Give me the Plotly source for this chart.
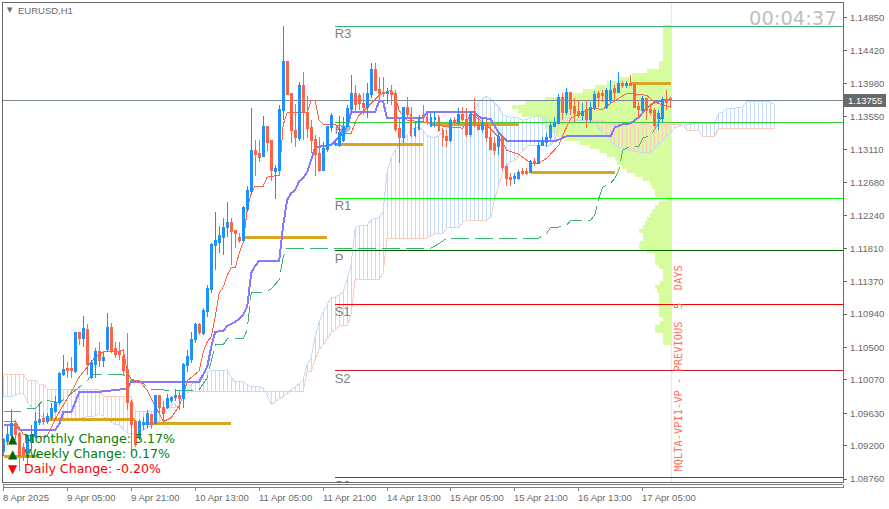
#!/usr/bin/env python3
"""EURUSD H1 terminal chart: candles, Ichimoku, pivots and a volume profile."""

import plotly.graph_objects as go

# Candles, quoted in points (1 point = 0.00001)
opens_pts = [
    109124, 109255, 109335, 109493, 109361, 109176, 109110, 109242, 109321, 109506, 109559, 109519,
    109572, 109651, 109769, 110138, 110218, 110218, 110178, 110692, 110613, 110732, 110099, 110270,
    110442, 110323, 110468, 110758, 110481, 110442, 110376, 110204, 109769, 109519, 109308, 109479,
    109479, 109611, 109493, 109862, 109704, 109704, 109796, 109835, 109862, 109822, 110257, 110336,
    110600, 110797, 110679, 110969, 111259, 111839, 111891, 111957, 112089, 112155, 112050, 111957,
    111918, 112326, 112564, 113104, 113064, 113025, 113420, 113236, 112827, 112840, 113631, 114277,
    113855, 113368, 113262, 113961, 113605, 113407, 113249, 113064, 112840, 113117, 113407, 113183,
    113170, 113236, 113420, 113644, 113855, 113829, 113723, 113671, 113842, 114172, 113908, 113868,
    113855, 113882, 113855, 113394, 113275, 113671, 113578, 113302, 113381, 113565, 113552, 113420,
    113513, 113539, 113368, 113289, 113236, 113499, 113460, 113578, 113513, 113315, 113578, 113447,
    113381, 113447, 113275, 113196, 113157, 113289, 112893, 112748, 112735, 112735, 112827, 112827,
    112814, 112959, 112933, 113170, 113209, 113275, 113420, 113460, 113803, 113605, 113868, 113684,
    113618, 113565, 113644, 113513, 113671, 113855, 113855, 113671, 113763, 113921, 113868, 113987,
    113961, 113987, 113974, 113684, 113631, 113789, 113644, 113631, 113526, 113526, 113776, 113789,
]
highs_pts = [
    109308, 109466, 109690, 109545, 109387, 109242, 109321, 109479, 109651, 109769, 109638, 109638,
    109769, 109862, 110178, 110402, 110310, 110376, 110692, 110692, 110916, 110811, 110336, 110494,
    110573, 110442, 110956, 110824, 110573, 110573, 110481, 110692, 109809, 109545, 109545, 109585,
    109677, 109624, 109875, 109862, 109796, 109888, 109862, 109954, 109928, 110297, 110468, 110705,
    110824, 110824, 111022, 111325, 111878, 112287, 112102, 112208, 112419, 112208, 112050, 112010,
    112366, 112630, 113658, 113236, 113236, 113552, 113420, 113236, 112906, 113697, 114738, 114277,
    113855, 113710, 114000, 114132, 113816, 113499, 113302, 113275, 113209, 113420, 113592, 113236,
    113552, 113539, 113697, 114092, 113961, 113855, 113855, 113987, 114251, 114251, 114066, 114066,
    113921, 113961, 113895, 113539, 113671, 113803, 113671, 113460, 113565, 113697, 113592, 113592,
    113605, 113565, 113394, 113368, 113526, 113539, 113658, 113671, 113658, 113605, 113789, 113539,
    113526, 113499, 113433, 113275, 113341, 113302, 112906, 112801, 112801, 112840, 112867, 112867,
    112972, 112999, 113236, 113275, 113328, 113460, 113539, 113842, 113855, 113921, 113868, 113789,
    113763, 113723, 113763, 113737, 113882, 113882, 113895, 113921, 114027, 113961, 114132, 114013,
    114013, 114092, 113987, 113737, 113816, 113789, 113710, 113658, 113631, 113803, 113895, 113803,
]
lows_pts = [
    109071, 109216, 109308, 109282, 108873, 109005, 108965, 109150, 109308, 109479, 109479, 109493,
    109545, 109638, 109743, 110125, 110099, 110099, 110165, 110534, 110508, 110138, 110086, 110099,
    110244, 110244, 110442, 110428, 110363, 110336, 110138, 109677, 109137, 109190, 109282, 109414,
    109440, 109427, 109479, 109624, 109519, 109690, 109769, 109796, 109677, 109704, 110178, 110297,
    110560, 110666, 110666, 110903, 111219, 111522, 111746, 111720, 111957, 111588, 111812, 111878,
    111878, 112287, 112511, 112761, 112946, 113012, 113091, 112695, 112458, 112827, 113499, 113842,
    113196, 113144, 113223, 113236, 113262, 113064, 112761, 112814, 112840, 113078, 113341, 113157,
    113144, 113209, 113407, 113605, 113592, 113631, 113565, 113526, 113789, 113882, 113737, 113803,
    113710, 113697, 113341, 112933, 113196, 113539, 113275, 113275, 113368, 113473, 113433, 113407,
    113407, 113341, 113157, 113144, 113209, 113447, 113447, 113486, 113275, 113275, 113407, 113368,
    113328, 113209, 113104, 113038, 113038, 112840, 112630, 112630, 112656, 112709, 112774, 112774,
    112801, 112893, 112933, 113157, 113144, 113236, 113407, 113447, 113499, 113565, 113565, 113473,
    113526, 113499, 113394, 113473, 113631, 113671, 113737, 113644, 113710, 113763, 113855, 113921,
    113921, 113948, 113658, 113526, 113605, 113499, 113565, 113407, 113368, 113473, 113631, 113671,
]
closes_pts = [
    109282, 109348, 109493, 109348, 109071, 109084, 109321, 109348, 109519, 109545, 109519, 109585,
    109690, 109769, 110152, 110204, 110191, 110191, 110692, 110613, 110745, 110270, 110297, 110442,
    110323, 110363, 110758, 110442, 110402, 110402, 110191, 109769, 109479, 109216, 109519, 109506,
    109624, 109479, 109862, 109704, 109624, 109822, 109835, 109862, 109822, 110270, 110376, 110600,
    110797, 110692, 110982, 111272, 111865, 111918, 111971, 112089, 112155, 112036, 112010, 111905,
    112353, 112577, 113104, 113051, 113012, 113420, 113209, 112840, 112867, 113644, 114277, 113842,
    113368, 113275, 113961, 113605, 113394, 113236, 113051, 112840, 113130, 113420, 113565, 113196,
    113341, 113420, 113658, 113855, 113710, 113723, 113671, 113855, 114172, 113895, 113855, 113855,
    113882, 113842, 113381, 113275, 113671, 113578, 113302, 113394, 113539, 113539, 113486, 113539,
    113539, 113368, 113275, 113236, 113499, 113473, 113578, 113513, 113315, 113578, 113447, 113381,
    113460, 113275, 113117, 113104, 113289, 112880, 112735, 112722, 112761, 112814, 112801, 112801,
    112959, 112933, 113170, 113236, 113275, 113433, 113473, 113803, 113605, 113868, 113658, 113592,
    113565, 113618, 113513, 113671, 113842, 113803, 113829, 113895, 113895, 113868, 113987, 113961,
    113987, 113961, 113671, 113644, 113789, 113631, 113605, 113433, 113592, 113776, 113737, 113755,
]

# Ichimoku lines, as the vertices (bar number, points)
tenkan_bars = [
    0, 3, 5, 9, 11, 13, 15, 17, 19, 23, 25, 30, 31, 32, 34, 36, 40, 42, 44, 45, 46, 49, 50, 51, 52,
    53, 54, 55, 56, 57, 58, 59, 60, 61, 62, 63, 65, 66, 69, 70, 71, 76, 77, 78, 79, 80, 83, 85, 87,
    88, 89, 91, 94, 97, 98, 99, 101, 106, 108, 115, 117, 121, 124, 126, 129, 132, 134, 136, 139,
    140, 142, 146, 147, 150, 152, 156, 161, 163, 167,
]
tenkan_pts = [
    109519, 109519, 109348, 109321, 109335, 109559, 109743, 109914, 110112, 110376, 110442, 110455,
    110178, 110073, 110059, 109928, 109519, 109572, 109730, 109862, 110059, 110191, 110442, 110573,
    110639, 110903, 111219, 111298, 111456, 111549, 111549, 111746, 111891, 112313, 112537, 112630,
    112630, 112748, 112774, 113433, 113605, 113605, 113763, 113763, 113499, 113447, 113447, 113328,
    113328, 113460, 113565, 113671, 113829, 113895, 113829, 113631, 113499, 113473, 113433, 113394,
    113592, 113433, 113275, 113104, 113051, 112933, 112933, 112999, 113170, 113302, 113526, 113631,
    113658, 113644, 113723, 113855, 113829, 113737, 113671,
]
kijun_bars = [
    0, 3, 4, 13, 14, 15, 17, 18, 19, 24, 26, 31, 32, 49, 51, 52, 53, 55, 56, 58, 59, 60, 61, 62, 63,
    64, 69, 70, 71, 72, 73, 74, 75, 76, 77, 78, 82, 84, 86, 87, 93, 94, 95, 96, 105, 106, 118, 119,
    122, 124, 126, 138, 141, 152, 153, 155, 157, 159, 161, 163, 167,
]
kijun_pts = [
    109479, 109479, 109414, 109414, 109493, 109651, 109651, 109796, 109914, 109914, 109928, 109954,
    110046, 110046, 110244, 110508, 110705, 110718, 110784, 110837, 110877, 110929, 111035, 111483,
    111575, 111641, 111641, 112115, 112445, 112537, 112577, 112695, 112735, 112814, 112972, 113144,
    113170, 113275, 113394, 113605, 113605, 113750, 113750, 113526, 113526, 113605, 113605, 113539,
    113513, 113328, 113223, 113223, 113289, 113289, 113407, 113447, 113460, 113539, 113658, 113737,
    113776,
]
chikou_bars = [
    0, 4, 6, 8, 10, 14, 21, 22, 30, 32, 34, 37, 47, 49, 51, 52, 53, 55, 56, 60, 61, 62, 65, 67, 69,
    70, 71, 107, 108, 110, 111, 134, 136, 137, 139, 141, 142, 147, 148, 149, 150, 152, 153, 154,
    155, 157, 159, 160, 162, 164, 165,
]
chikou_pts = [
    109651, 109651, 109690, 109690, 109809, 109769, 110059, 110138, 110138, 110059, 110059, 109941,
    109928, 109941, 110099, 110297, 110534, 110534, 110613, 110613, 110732, 111219, 111219, 111272,
    111391, 111694, 111812, 111812, 111839, 111905, 111944, 111944, 112010, 112089, 112089, 112115,
    112181, 112181, 112247, 112471, 112616, 112669, 112735, 112840, 113104, 113157, 113157, 113262,
    113302, 113460, 113592,
]

# Cloud edges, one value for each bar including the 26 bars past the last candle
span_a_pts = [
    109849, 109849, 109849, 109875, 109888, 109888, 109783, 109704, 109651, 109598, 109585, 109559,
    109559, 109559, 109559, 109559, 109559, 109559, 109559, 109559, 109572, 109585, 109585, 109598,
    109624, 109585, 109545, 109506, 109479, 109479, 109414, 109361, 109361, 109361, 109387, 109414,
    109440, 109466, 109493, 109519, 109611, 109704, 109743, 109756, 109809, 109888, 109941, 110007,
    110046, 110099, 110138, 110178, 110191, 110191, 110191, 110191, 110204, 110099, 110046, 110046,
    110046, 110007, 109980, 109980, 109980, 109954, 109875, 109743, 109783, 109822, 109849, 109901,
    109941, 109980, 110020, 110073, 110270, 110363, 110639, 110837, 110969, 111061, 111153, 111167,
    111193, 111232, 111391, 111588, 112076, 112102, 112115, 112115, 112181, 112208, 112208, 112287,
    112814, 112999, 113104, 113170, 113236, 113302, 113368, 113407, 113407, 113368, 113302, 113275,
    113275, 113302, 113341, 113394, 113447, 113486, 113526, 113539, 113552, 113578, 113631, 113737,
    113789, 113816, 113776, 113723, 113671, 113565, 113552, 113539, 113539, 113526, 113499, 113513,
    113526, 113552, 113565, 113552, 113513, 113473, 113473, 113499, 113539, 113526, 113526, 113513,
    113499, 113499, 113499, 113499, 113473, 113394, 113341, 113315, 113236, 113170, 113144, 113130,
    113117, 113104, 113091, 113078, 113078, 113064, 113078, 113130, 113183, 113223, 113289, 113341,
    113394, 113420, 113433, 113447, 113447, 113460, 113460, 113460, 113460, 113460, 113460, 113592,
    113605, 113658, 113658, 113658, 113671, 113671, 113750, 113750, 113750, 113750, 113750, 113750,
    113737, 113710,
]
span_b_pts = [
    110138, 110138, 110138, 110138, 110138, 110138, 110059, 110059, 110059, 110007, 110007, 109941,
    109941, 109941, 109941, 109941, 109941, 109941, 109941, 109941, 109941, 109941, 109941, 109941,
    109941, 109849, 109849, 109849, 109849, 109849, 109849, 109849, 109849, 109651, 109651, 109651,
    109651, 109651, 109651, 109651, 109651, 109704, 109704, 109704, 109743, 109849, 109901, 109914,
    109914, 109914, 109914, 109914, 109914, 109914, 109914, 109914, 109914, 109914, 109914, 109914,
    109914, 109914, 109914, 109914, 109914, 109914, 109914, 109914, 109914, 109914, 109914, 109914,
    109914, 109914, 109914, 109914, 110178, 110178, 110336, 110468, 110534, 110613, 110692, 110732,
    110784, 110784, 110784, 110929, 111391, 111391, 111391, 111391, 111391, 111391, 111391, 111483,
    111944, 111944, 111944, 111944, 111944, 111944, 111944, 111944, 111944, 111944, 111944, 111971,
    111997, 112010, 112010, 112076, 112089, 112089, 112089, 112155, 112181, 112181, 112181, 112181,
    112181, 112181, 112221, 112471, 112643, 112814, 112906, 112946, 112972, 113038, 113104, 113157,
    113170, 113170, 113170, 113170, 113170, 113170, 113236, 113433, 113499, 113499, 113499, 113499,
    113499, 113499, 113499, 113499, 113499, 113499, 113499, 113447, 113447, 113447, 113447, 113447,
    113447, 113447, 113447, 113447, 113447, 113447, 113447, 113447, 113447, 113447, 113447, 113447,
    113447, 113447, 113447, 113368, 113368, 113368, 113368, 113289, 113289, 113289, 113289, 113394,
    113394, 113394, 113394, 113394, 113394, 113394, 113394, 113394, 113394, 113394, 113394, 113394,
    113394, 113394,
]

# Volume profile: price of each row and its length, measured in bars
profile_pts = [
    114725, 114672, 114619, 114567, 114514, 114461, 114408, 114356, 114303, 114250, 114197, 114145,
    114092, 114039, 113987, 113934, 113881, 113829, 113776, 113723, 113671, 113618, 113565, 113512,
    113460, 113407, 113354, 113302, 113249, 113196, 113143, 113091, 113038, 112985, 112933, 112880,
    112827, 112775, 112722, 112669, 112616, 112564, 112511, 112458, 112406, 112353, 112300, 112247,
    112195, 112142, 112089, 112037, 111984, 111931, 111878, 111826, 111773, 111720, 111668, 111615,
    111562, 111509, 111457, 111404, 111351, 111299, 111246, 111193, 111140, 111088, 111035, 110982,
    110930, 110877, 110824, 110771, 110719, 110666, 110613, 110561,
]
profile_volume = [
    2.1, 2.1, 2.1, 2.1, 2.1, 2.1, 2.1, 2.1, 2.1, 3.1, 3.1, 6.1,
    9.9, 13.4, 16.1, 19.1, 22.1, 26.1, 31.6, 36.6, 39.9, 38.4, 37.4, 32.9,
    32.1, 31.6, 29.9, 28.6, 26.6, 22.9, 20.4, 17.9, 16.1, 14.1, 13.6, 12.4,
    11.1, 9.1, 7.1, 5.4, 4.9, 4.1, 4.1, 1.1, 3.1, 4.1, 4.9, 5.4,
    6.1, 6.6, 7.1, 8.1, 7.1, 7.1, 7.9, 8.1, 6.1, 4.1, 4.1, 4.1,
    3.1, 2.1, 2.1, 2.1, 2.9, 4.1, 3.6, 3.1, 3.1, 3.1, 3.1, 3.1,
    3.1, 2.1, 2.9, 4.1, 4.1, 2.1, 2.1, 2.1,
]

# Horizontal levels
pivot_names = ["R3", "R2", "R1", "P", "S1", "S2", "S3"]
pivot_pts = [114738, 113473, 112471, 111773, 111068, 110191, 108781]
pivot_colors = ["#3CB371", "#32CD32", "#00FF00", "#006400", "#FF0000", "#C81E32", "#B22234"]
gold_pts = [109058, 109545, 109493, 111957, 113183, 113447, 112814, 113987]
gold_first_bar = [0, 11, 35, 60, 83, 107, 132, 157]
gold_last_bar = [9, 33, 57, 81, 105, 129, 153, 167]
last_price = 1.13755

# Axis labels
price_ticks = [
    "1.14850", "1.14420", "1.13980", "1.13550", "1.13110", "1.12680", "1.12240", "1.11810",
    "1.11370", "1.10940", "1.10500", "1.10070", "1.09630", "1.09200", "1.08760",
]
time_tick_bars = [0, 16, 32, 48, 64, 80, 96, 112, 128, 144, 160]
time_ticks = [
    "8 Apr 2025", "9 Apr 05:00", "9 Apr 21:00", "10 Apr 13:00", "11 Apr 05:00", "11 Apr 21:00",
    "14 Apr 13:00", "15 Apr 05:00", "15 Apr 21:00", "16 Apr 13:00", "17 Apr 05:00",
]

GRAY = "#696969"
BLUE = "#1E90FF"
RED = "#FF6347"
CLOUD_UP = "#C3DBF4"
CLOUD_DOWN = "#F6CDBE"
PROFILE_GREEN = "#D7FC9D"
TICK_FONT = dict(family="Liberation Sans", size=9.5, color=GRAY)

# Pixel frame of the plot area inside the 889x509 page
LEFT, RIGHT, TOP, BOTTOM = 2.5, 843.5, 2.5, 482.5


def price(points):
    return [p / 100000 for p in points]


def paper_x(px):
    return (px - LEFT) / (RIGHT - LEFT)


def paper_y(px):
    return (BOTTOM - px) / (BOTTOM - TOP)


fig = go.Figure()

# Volume profile grows to the left from the bar just after the last candle
anchor_bar = 167.1
fig.add_trace(go.Bar(
    y=price(profile_pts),
    x=[-v for v in profile_volume],
    base=anchor_bar,
    orientation="h",
    width=0.00054,
    marker=dict(color=PROFILE_GREEN, line=dict(width=0)),
))

# Cloud hatching, one vertical stroke per bar
hatch = {CLOUD_UP: ([], []), CLOUD_DOWN: ([], [])}
for bar, (a, b) in enumerate(zip(span_a_pts, span_b_pts)):
    xs, ys = hatch[CLOUD_UP if a >= b else CLOUD_DOWN]
    xs += [bar, bar, None]
    ys += [a / 100000, b / 100000, None]
for color, (xs, ys) in hatch.items():
    fig.add_trace(go.Scatter(x=xs, y=ys, mode="lines", line=dict(color=color, width=1)))

span_bars = list(range(len(span_a_pts)))
fig.add_trace(go.Scatter(x=span_bars, y=price(span_b_pts), mode="lines",
                         line=dict(color=CLOUD_DOWN, width=1)))
fig.add_trace(go.Scatter(x=span_bars, y=price(span_a_pts), mode="lines",
                         line=dict(color=CLOUD_UP, width=1)))

# Gold levels
for level, first, last in zip(gold_pts, gold_first_bar, gold_last_bar):
    fig.add_trace(go.Scatter(x=[first, last], y=[level / 100000] * 2, mode="lines",
                             line=dict(color="#DAA520", width=3)))

# Pivot lines with their names hanging underneath
pivot_start, chart_end = 83, 210.2
label_drop = 0.0003
for name, level, color in zip(pivot_names, pivot_pts, pivot_colors):
    fig.add_trace(go.Scatter(x=[pivot_start, chart_end], y=[level / 100000] * 2, mode="lines",
                             line=dict(color=color, width=1)))
    fig.add_trace(go.Scatter(x=[pivot_start - 0.1], y=[level / 100000 - label_drop], mode="text",
                             text=[name], textposition="bottom right",
                             textfont=dict(family="Liberation Sans", size=13, color="#808080")))

# Current price
fig.add_trace(go.Scatter(x=[-1, chart_end], y=[last_price, last_price], mode="lines",
                         line=dict(color="#778899", width=1)))

# Ichimoku lines
fig.add_trace(go.Scatter(x=chikou_bars, y=price(chikou_pts), mode="lines",
                         line=dict(color="#3CB371", width=1, dash="18px,6px")))
fig.add_trace(go.Scatter(x=kijun_bars, y=price(kijun_pts), mode="lines",
                         line=dict(color="#8878FF", width=2)))
fig.add_trace(go.Scatter(x=tenkan_bars, y=price(tenkan_pts), mode="lines",
                         line=dict(color=RED, width=1)))

# Candles sit on an overlaid pair of axes so that they stay above the indicators
fig.add_trace(go.Candlestick(
    x=list(range(len(opens_pts))),
    open=price(opens_pts),
    high=price(highs_pts),
    low=price(lows_pts),
    close=price(closes_pts),
    xaxis="x2",
    yaxis="y2",
    whiskerwidth=0,
    increasing=dict(line=dict(color=BLUE, width=1), fillcolor=BLUE),
    decreasing=dict(line=dict(color=RED, width=1), fillcolor=RED),
))

x_range = [-0.125, 210.125]
y_range = [1.08722, 1.15048]

# Terminal texts
annotations = [
    dict(x=paper_x(16), y=paper_y(10), text="EURUSD,H1",
         font=dict(family="Liberation Sans", size=9.5, color=GRAY)),
    dict(x=paper_x(5), y=paper_y(10), text="▼", font=dict(family="DejaVu Sans", size=7, color=GRAY)),
    dict(x=paper_x(747), y=paper_y(18), text="00:04:37",
         font=dict(family="DejaVu Sans", size=19.5, color="#C0C0C0")),
    dict(x=paper_x(22), y=paper_y(439), text="Monthly Change: 5.17%",
         font=dict(family="DejaVu Sans", size=12.6, color="#008000")),
    dict(x=paper_x(22), y=paper_y(454), text="Weekly Change: 0.17%",
         font=dict(family="DejaVu Sans", size=12.6, color="#008000")),
    dict(x=paper_x(22), y=paper_y(469), text="Daily Change: -0.20%",
         font=dict(family="DejaVu Sans", size=12.6, color="#FF0000")),
    dict(x=paper_x(6), y=paper_y(439), text="▲", font=dict(family="DejaVu Sans", size=12, color="#006400")),
    dict(x=paper_x(6), y=paper_y(454), text="▲", font=dict(family="DejaVu Sans", size=12, color="#006400")),
    dict(x=paper_x(6), y=paper_y(469), text="▼", font=dict(family="DejaVu Sans", size=12, color="#FF0000")),
    dict(x=paper_x(847), y=paper_y(100.5), text=f"{last_price:.5f}", font=dict(
        family="Liberation Sans", size=9.5, color="white")),
]
for label, bar in zip(time_ticks, time_tick_bars):
    annotations.append(dict(x=paper_x(0.5 + 4 * bar), y=paper_y(498), text=label, font=TICK_FONT))
for note in annotations:
    note.update(xref="paper", yref="paper", xanchor="left", yanchor="middle", showarrow=False)

annotations.append(dict(
    x=168.9, y=1.10224, xref="x", yref="y", showarrow=False, textangle=-90,
    text="MQLTA-VPI1-VP - PREVIOUS  5  DAYS",
    font=dict(family="DejaVu Sans Mono", size=10.4, color="#FF6F5C"),
))

# Time strip under the chart, its tick marks, the price box and the profile's base line
shapes = [
    dict(type="line", xref="x", yref="paper", x0=anchor_bar, x1=anchor_bar, y0=0, y1=1,
         line=dict(color=PROFILE_GREEN, width=1), layer="below"),
    dict(type="line", xref="paper", yref="paper", x0=0, x1=1, y0=paper_y(485.5), y1=paper_y(485.5),
         line=dict(color="#808080", width=1)),
    dict(type="line", xref="paper", yref="paper", x0=0, x1=1, y0=paper_y(488.5), y1=paper_y(488.5),
         line=dict(color="#808080", width=1)),
    dict(type="line", xref="paper", yref="paper", x0=0, x1=0, y0=paper_y(485.5), y1=paper_y(491),
         line=dict(color="#808080", width=1)),
    dict(type="line", xref="paper", yref="paper", x0=1, x1=1, y0=paper_y(485.5), y1=paper_y(488.5),
         line=dict(color="#808080", width=1)),
    dict(type="rect", xref="paper", yref="paper", x0=paper_x(845), x1=paper_x(887),
         y0=paper_y(94), y1=paper_y(107), fillcolor=GRAY, line=dict(width=0)),
]
for bar in time_tick_bars:
    shapes.append(dict(type="line", xref="x", yref="paper", x0=bar, x1=bar,
                       y0=paper_y(488.5), y1=paper_y(492), line=dict(color="#808080", width=1)))

fig.update_layout(
    width=889,
    height=509,
    margin=dict(l=LEFT, r=889 - RIGHT, t=TOP, b=509 - BOTTOM, pad=0),
    paper_bgcolor="white",
    plot_bgcolor="white",
    showlegend=False,
    hovermode=False,
    bargap=0,
    boxgap=0.3,
    annotations=annotations,
    shapes=shapes,
    xaxis=dict(
        type="linear", range=x_range, showgrid=False, zeroline=False, showticklabels=False,
        ticks="", showline=True, mirror=True, linecolor=GRAY, linewidth=1,
    ),
    yaxis=dict(
        type="linear", range=y_range, side="right", showgrid=False, zeroline=False,
        tickmode="array", tickvals=[float(t) for t in price_ticks], ticktext=price_ticks,
        ticks="outside", ticklen=3, tickcolor=GRAY, tickfont=TICK_FONT, ticklabelstandoff=1,
        showline=True, mirror=True, linecolor=GRAY, linewidth=1,
    ),
    xaxis2=dict(type="linear", range=x_range, overlaying="x", visible=False,
                rangeslider=dict(visible=False)),
    yaxis2=dict(type="linear", range=y_range, overlaying="y", visible=False),
)

# body margin off, and crisp strokes like the terminal's own drawing
page_js = """
document.body.style.margin = '0';
document.querySelectorAll('.main-svg').forEach(function (svg) {
    svg.style.shapeRendering = 'crispEdges';
});
"""
fig.write_html("out.html", config=dict(displayModeBar=False), post_script=page_js)
